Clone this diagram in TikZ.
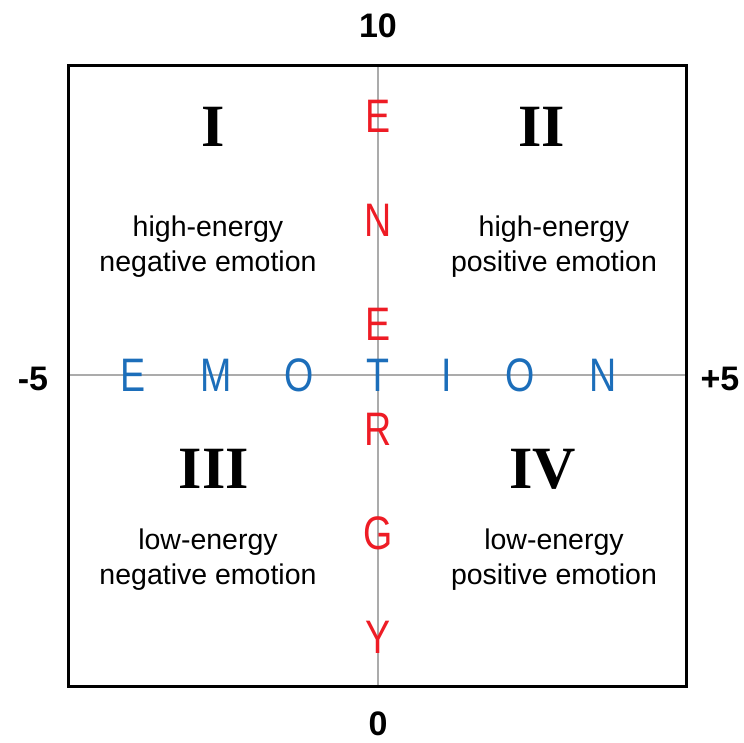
\documentclass[tikz,border=0pt]{standalone}
\usepackage{fontspec}
\setmainfont{Liberation Sans}
\newfontfamily\numeralfont{Liberation Serif}
\newfontfamily\stretchfont[FakeStretch=0.8]{Liberation Sans}
\usetikzlibrary{positioning}
\definecolor{emored}{HTML}{EE1C25}
\definecolor{emoblue}{HTML}{1C6EBA}
\definecolor{axisgray}{HTML}{ABABAB}

\begin{document}
\begin{tikzpicture}[x=1pt, y=-1pt,
  every node/.style={inner sep=0pt, outer sep=0pt},
  numeral/.style={font=\numeralfont\bfseries\fontsize{60}{60}\selectfont},
  quadtext/.style={align=center, font=\fontsize{28.5}{35}\selectfont},
  scalelabel/.style={font=\bfseries\fontsize{34}{34}\selectfont},
  emoletter/.style={text=emoblue, font=\stretchfont\fontsize{47}{47}\selectfont},
  enerletter/.style={text=emored, font=\stretchfont\fontsize{47}{47}\selectfont},
]
\useasboundingbox (0,0) rectangle (744,743);

% Frame and axes
\coordinate (nw) at (68,66);
\coordinate (se) at (686,686);
\coordinate (top) at (378,66);
\coordinate (bot) at (378,686);
\coordinate (lft) at (68,375);
\coordinate (rgt) at (686,375);
\draw[axisgray, line width=1.5pt] (top) -- (bot);
\draw[axisgray, line width=1.5pt] (lft) -- (rgt);
\draw[line width=3pt] (nw) rectangle (se);

% Scale labels
\node[scalelabel] (max) at (378,25.5) {10};
\node[scalelabel] (min) at (378,724) {0};
\node[scalelabel] (neg) at (33,379) {-5};
\node[scalelabel] (pos) at (720,379) {+5};

% Axis words
\foreach \ltr/\xpos [count=\i] in {E/133, M/216, O/299, T/378, I/447, O/520, N/603}
  \node[emoletter] (emo\i) at (\xpos,375) {\ltr};
\foreach \ltr/\ypos [count=\i] in {E/116, N/220, E/324, R/429, G/533, Y/637}
  \node[enerletter] (ener\i) at (378,\ypos) {\ltr};

% Quadrants
\node[numeral] (q1) at (213,127) {I};
\node[numeral] (q2) at (542,127) {II};
\node[numeral] (q3) at (214,469) {III};
\node[numeral] (q4) at (542.5,469) {IV};
\node[quadtext] (t1) at (208,247) {high-energy\\negative emotion};
\node[quadtext] (t2) at (554,247) {high-energy\\positive emotion};
\node[quadtext] (t3) at (208,560) {low-energy\\negative emotion};
\node[quadtext] (t4) at (554,560) {low-energy\\positive emotion};

\end{tikzpicture}
\end{document}
